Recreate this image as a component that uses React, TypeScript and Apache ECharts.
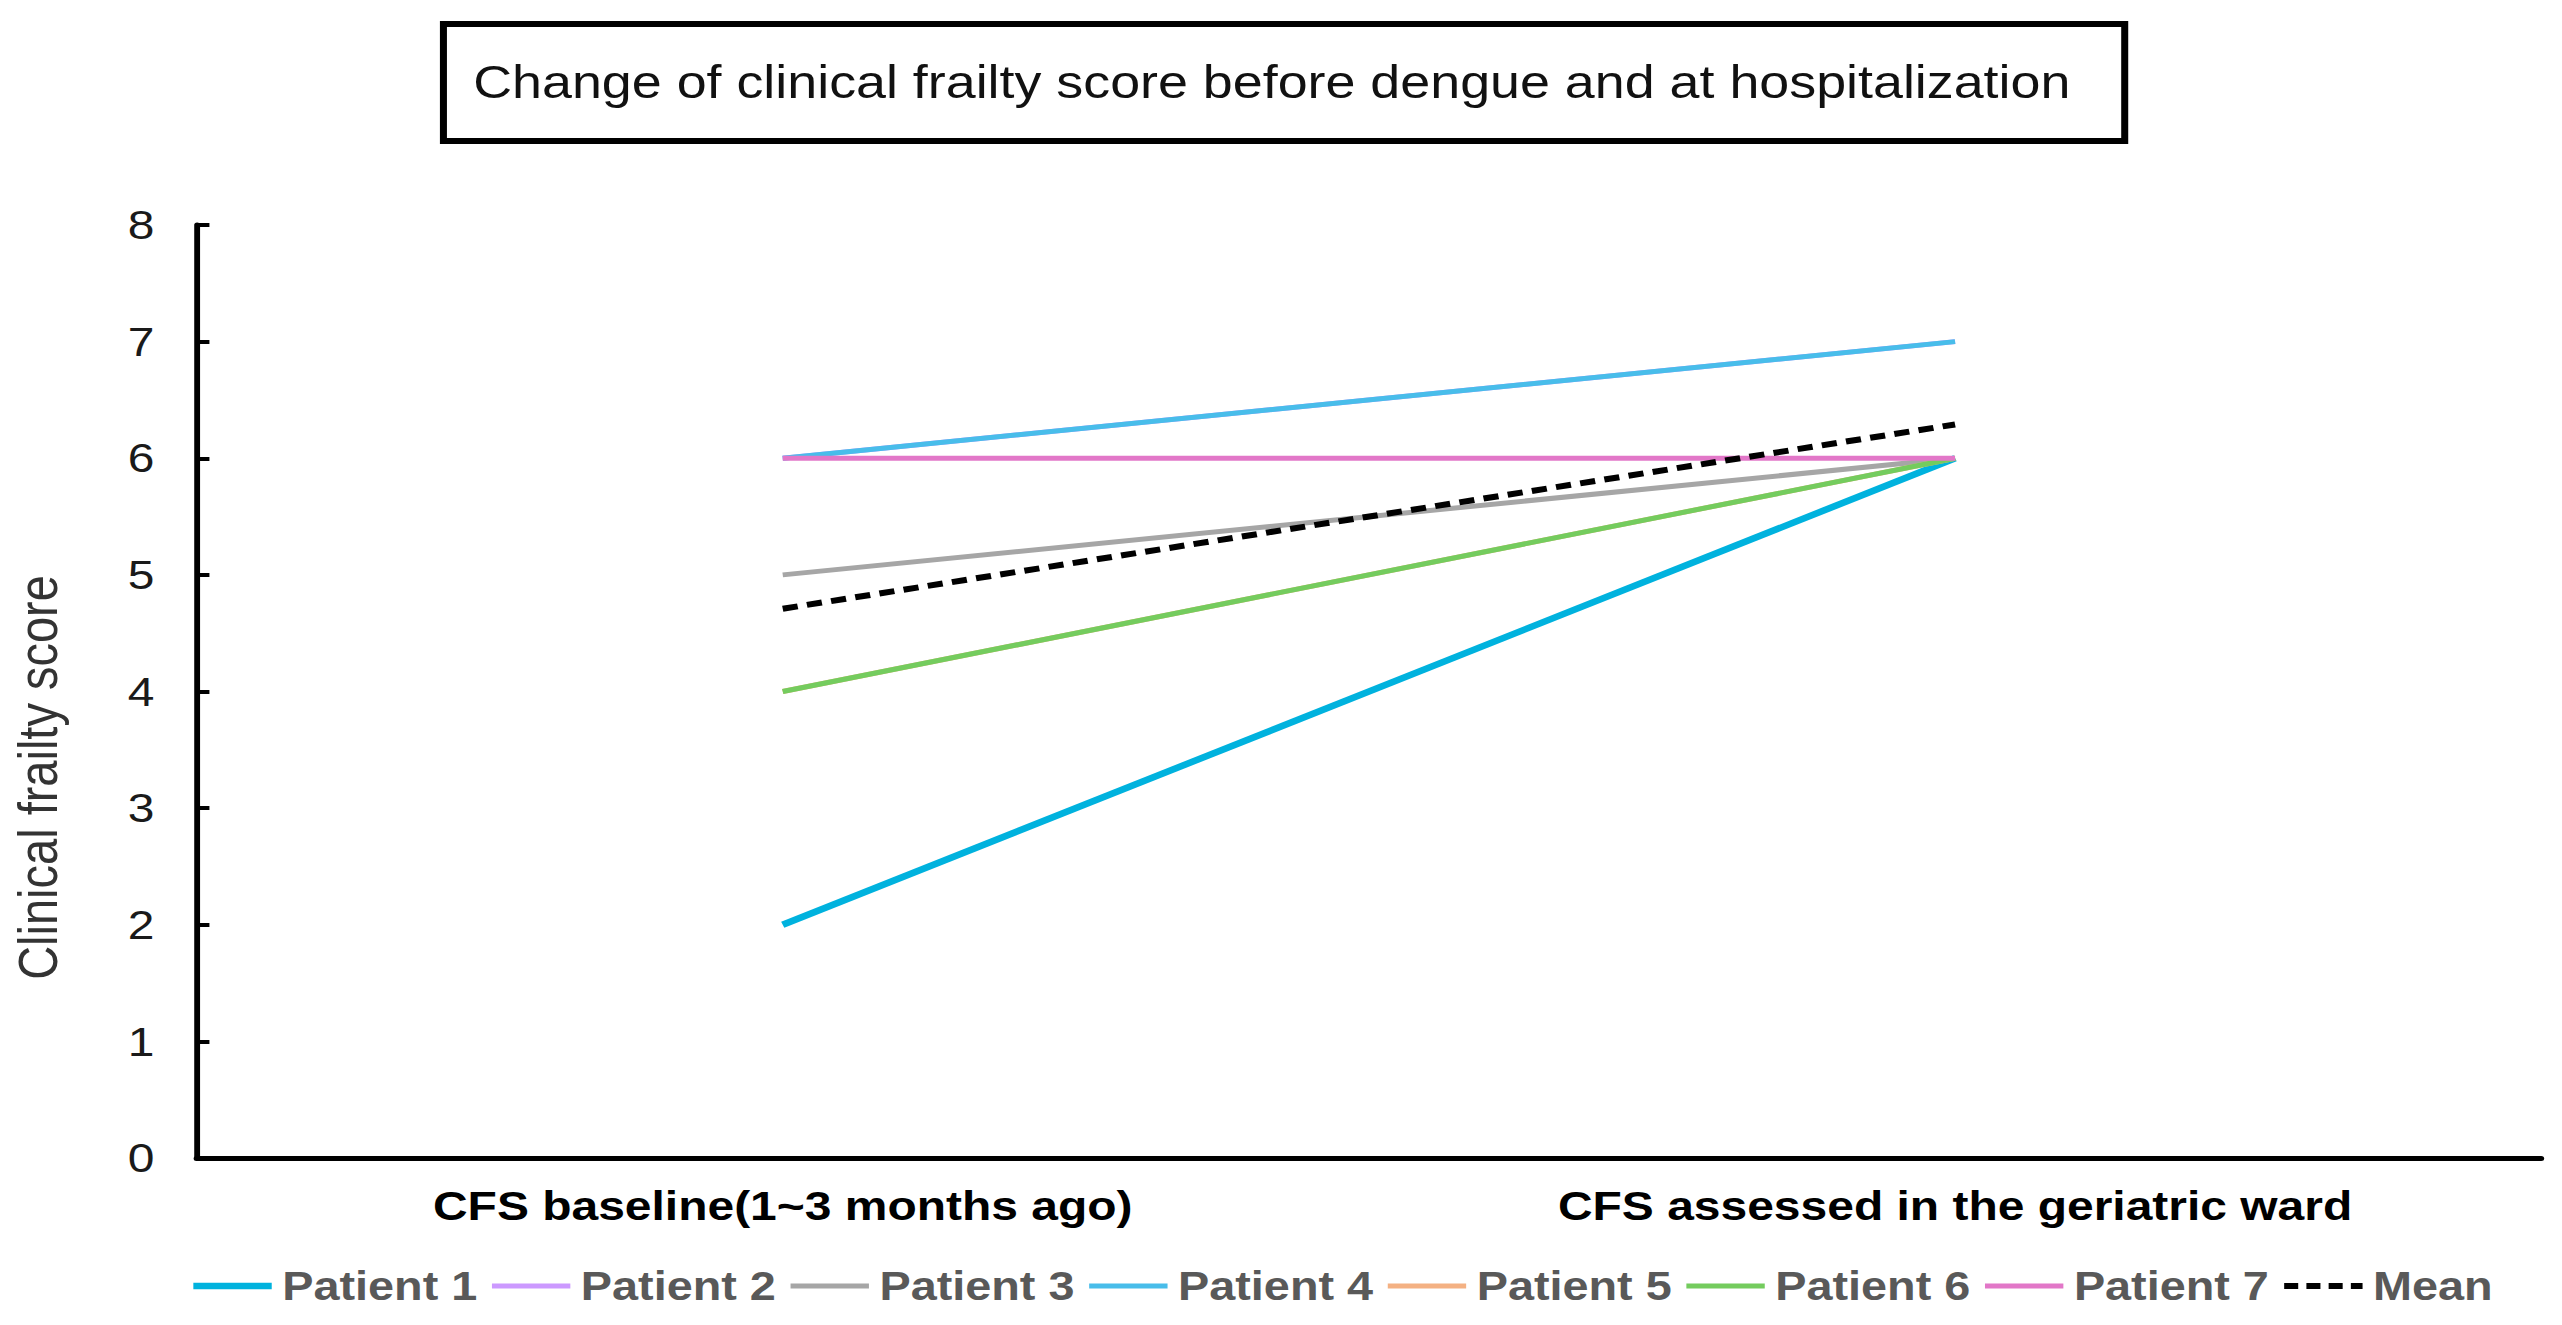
import React, { useEffect, useRef } from "react";
import * as echarts from "echarts";

const categories = ["CFS baseline(1~3 months ago)", "CFS assessed in the geriatric ward"];
const seriesNames = ["Patient 1", "Patient 2", "Patient 3", "Patient 4", "Patient 5", "Patient 6", "Patient 7", "Mean"];
const patient1 = [2, 6];
const patient2 = [6, 7];
const patient3 = [5, 6];
const patient4 = [6, 7];
const patient5 = [4, 6];
const patient6 = [4, 6];
const patient7 = [6, 6];
const meanValues = [4.71, 6.29];
const yMin = 0;
const yMax = 8;
const yInterval = 1;
const titleText = "Change of clinical frailty score before dengue and at hospitalization";
const yName = "Clinical frailty score";

const SX = 1.17;
const W = 2190;
const H = 1325;
const FONT = "'Liberation Sans', Arial, sans-serif";

export default function App() {
  const ref = useRef<HTMLDivElement>(null);
  useEffect(() => {
    if (!ref.current) return;
    const chart = echarts.init(ref.current, null, { renderer: "svg" });
    const values = [patient1, patient2, patient3, patient4, patient5, patient6, patient7, meanValues];
    const colors = ["#00B2DE", "#CC99FF", "#A6A6A6", "#48BDEA", "#F4B183", "#74CC5E", "#E277C8", "#000000"];
    const widths = [6.5, 5, 5, 5, 5, 5, 5, 6];
    const dash = [13, 8];
    const series = values.map((d, i) => ({
      name: seriesNames[i],
      type: "line",
      data: d,
      symbol: "none",
      showSymbol: false,
      color: colors[i],
      lineStyle: {
        color: colors[i],
        width: widths[i],
        type: i === 7 ? dash : "solid",
      },
      z: 2 + i,
    }));
    const legendData = seriesNames.map((n, i) => ({
      name: n,
      itemStyle: { opacity: 0 },
      lineStyle: { color: colors[i], width: widths[i], type: i === 7 ? [12, 7] : "solid" },
    }));
    chart.setOption({
      animation: false,
      backgroundColor: "#ffffff",
      title: {
        text: titleText,
        left: 1087,
        top: 82,
        textAlign: "center",
        textVerticalAlign: "middle",
        padding: 0,
        textStyle: { fontSize: 46, fontWeight: "normal", color: "#111111", fontFamily: FONT },
      },
      graphic: [
        {
          type: "rect",
          shape: { x: 379, y: 24, width: 1437, height: 117 },
          style: { fill: "none", stroke: "#000000", lineWidth: 6 },
          z: 1,
        },
      ],
      legend: {
        data: legendData,
        left: 162,
        top: 1266,
        padding: 0,
        itemWidth: 67,
        itemHeight: 20,
        itemGap: 10,
        itemStyle: { opacity: 0 },
        textStyle: { fontSize: 40, fontWeight: "bold", color: "#595959", fontFamily: FONT, padding: [0, 0, 0, 4] },
      },
      grid: { left: 168, right: 18, top: 225, bottom: 167, containLabel: false },
      xAxis: {
        type: "category",
        data: categories,
        boundaryGap: true,
        axisLine: { show: true, lineStyle: { color: "#000000", width: 5 } },
        axisTick: { show: false },
        axisLabel: { interval: 0, margin: 27, fontSize: 41, fontWeight: "bold", color: "#000000", fontFamily: FONT },
        splitLine: { show: false },
      },
      yAxis: {
        type: "value",
        min: yMin,
        max: yMax,
        interval: yInterval,
        name: yName,
        nameLocation: "middle",
        nameRotate: 90,
        nameGap: 112,
        nameTextStyle: { fontSize: 47, color: "#333333", fontFamily: FONT, padding: [0, 172, 0, 0] },
        axisLine: { show: true, lineStyle: { color: "#000000", width: 5 } },
        axisTick: { show: true, inside: true, length: 11, lineStyle: { color: "#000000", width: 4 } },
        axisLabel: { margin: 36, fontSize: 41, color: "#1a1a1a", fontFamily: FONT },
        splitLine: { show: false },
      },
      series,
    });
    return () => chart.dispose();
  }, []);
  return (
    <div
      ref={ref}
      style={{
        position: "fixed",
        left: 0,
        top: 0,
        width: W + "px",
        height: H + "px",
        transform: `scaleX(${SX})`,
        transformOrigin: "0 0",
        background: "#ffffff",
      }}
    />
  );
}
